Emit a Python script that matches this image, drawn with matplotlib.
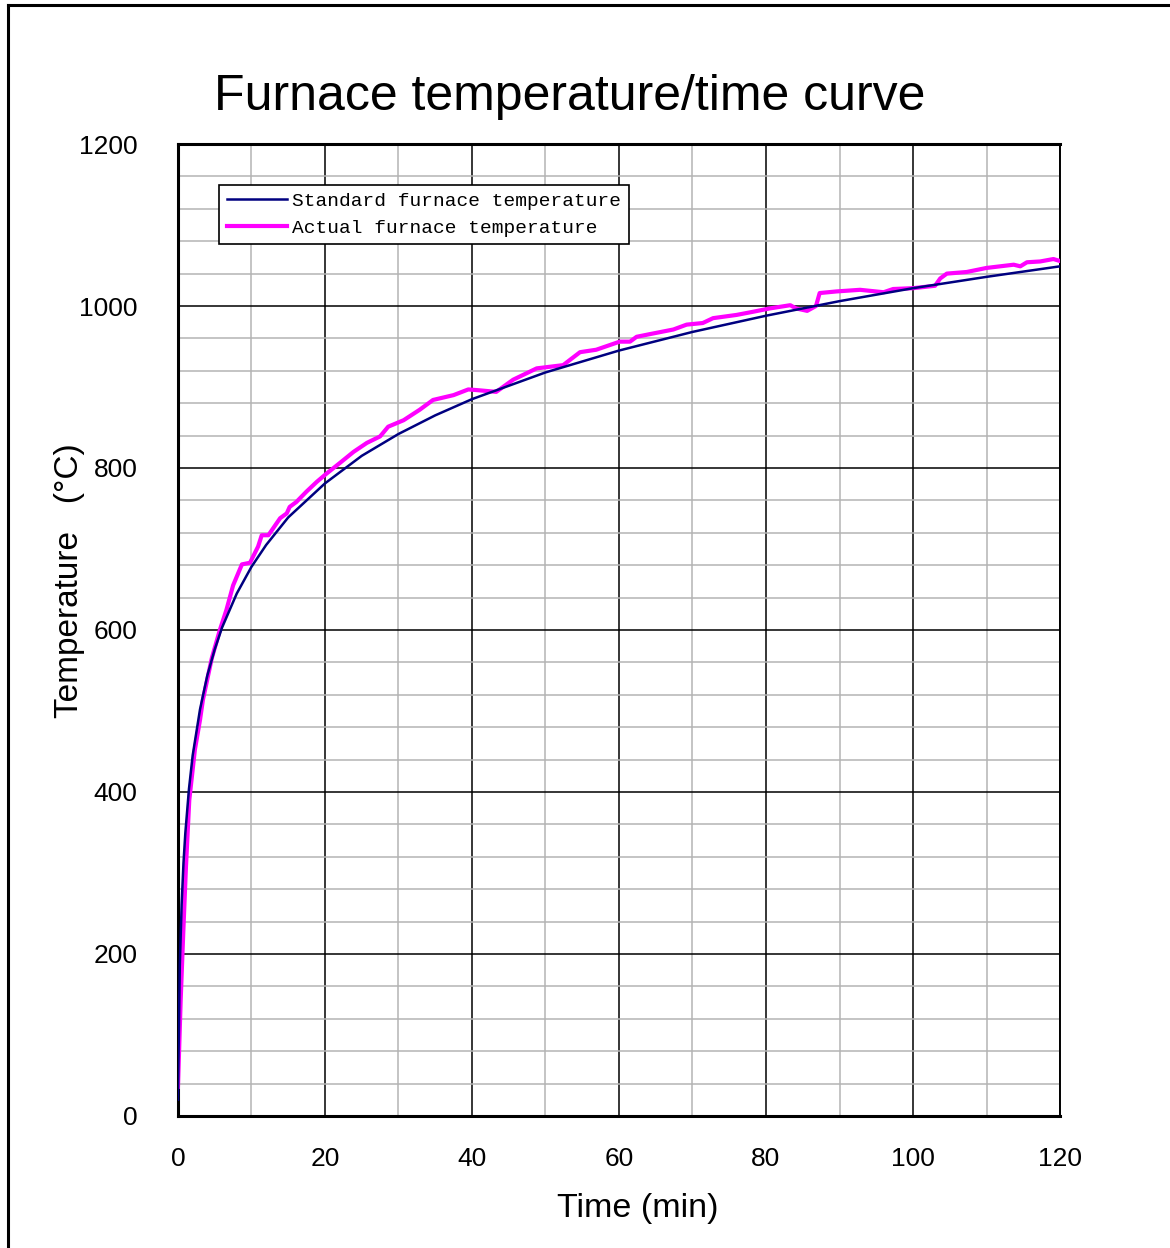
import matplotlib
matplotlib.use("Agg")
import matplotlib.pyplot as plt
from matplotlib.lines import Line2D
from matplotlib.ticker import MultipleLocator

# Standard furnace temperature
std_time = [0, 0.25, 0.5, 0.75, 1, 1.5, 2, 3, 4, 5, 6, 8, 10, 12, 15, 20, 25, 30,
            35, 40, 50, 60, 70, 80, 90, 100, 110, 120]
std_temp = [20, 185, 261, 312, 349, 404, 445, 502, 544, 576, 603, 645, 678, 705,
            739, 781, 815, 842, 865, 885, 918, 945, 968, 988, 1006, 1022, 1036, 1049]

# Actual furnace temperature
act_time = [0, 0.37, 0.72, 1.09, 1.54, 2.3, 3.0, 3.4, 4.6, 5.7, 6.6, 7.5, 8.7, 9.8,
            10.9, 11.4, 12.3, 13.9, 14.8, 15.2, 16.1, 17.5, 18.9, 20.2, 22.0, 23.9,
            25.7, 27.5, 28.6, 30.7, 32.9, 34.7, 37.5, 39.5, 40.9, 43.3, 45.6, 48.8,
            52.4, 54.7, 56.9, 60.1, 61.5, 62.4, 64.6, 67.4, 69.2, 71.4, 72.8, 76.0,
            78.3, 80.5, 83.3, 84.1, 85.6, 86.8, 87.3, 89.6, 92.8, 96.0, 97.3, 100.0,
            103.0, 103.7, 104.6, 107.3, 110.0, 113.7, 114.6, 115.5, 117.3, 119.1, 120.2]
act_temp = [36, 143, 226, 308, 390, 452, 489, 514, 565, 600, 625, 655, 681, 683,
            703, 717, 717, 738, 744, 752, 758, 771, 783, 793, 806, 820,
            831, 839, 851, 859, 872, 884, 890, 897, 896, 894, 909, 923,
            927, 943, 946, 956, 956, 962, 966, 971, 977, 979, 985, 989,
            993, 997, 1001, 997, 994, 1000, 1016, 1018, 1020, 1017, 1021, 1022,
            1025, 1034, 1040, 1042, 1047, 1051, 1049, 1054, 1055, 1058, 1055]

sans = ["Liberation Sans", "DejaVu Sans"]

fig = plt.figure(figsize=(11.7, 12.48), dpi=100)
ax = fig.add_axes([0.1521, 0.1058, 0.7539, 0.7788])

ax.plot(std_time, std_temp, color="#000080", lw=1.8, label="Standard furnace temperature", zorder=4)
ax.plot(act_time, act_temp, color="#ff00ff", lw=3.0, label="Actual furnace temperature", zorder=3)

ax.set_xlim(0, 120)
ax.set_ylim(0, 1200)
ax.xaxis.set_major_locator(MultipleLocator(20))
ax.xaxis.set_minor_locator(MultipleLocator(10))
ax.yaxis.set_major_locator(MultipleLocator(200))
ax.yaxis.set_minor_locator(MultipleLocator(40))
ax.grid(which="minor", color="#b4b4b4", lw=1.1)
ax.grid(which="major", color="black", lw=1.1)
ax.set_axisbelow(True)
ax.tick_params(which="both", length=0)
ax.tick_params(axis="y", pad=29, labelsize=19)
ax.tick_params(axis="x", pad=22, labelsize=19)
for lab in ax.get_xticklabels() + ax.get_yticklabels():
    lab.set_family(sans)

for s in ["left", "bottom", "top"]:
    ax.spines[s].set_linewidth(2.2)
ax.spines["right"].set_linewidth(1.4)

ax.set_xlabel("Time (min)", family=sans, fontsize=24.5)
ax.xaxis.set_label_coords(0.5215, -0.0947)
ax.xaxis.label.set_va("center")
ax.set_ylabel("Temperature   (°C)", family=sans, fontsize=24)
ax.yaxis.set_label_coords(-0.1224, 0.551)
ax.yaxis.label.set_va("center")
fig.text(0.487, 0.9225, "Furnace temperature/time curve", family=sans,
         fontsize=36, ha="center", va="center")

leg = ax.legend(loc="upper left", bbox_to_anchor=(0.047, 0.958), fancybox=False,
                framealpha=1, edgecolor="black", prop={"family": "Liberation Mono", "size": 14},
                handlelength=3.1, handletextpad=0.25, borderpad=0.4, labelspacing=0.45,
                borderaxespad=0)
leg.get_frame().set_linewidth(1.2)

# outer frame (only top and left edges show in the reference)
fig.add_artist(Line2D([0.0065, 0.0065], [0, 0.996], transform=fig.transFigure, color="black", lw=2.2))
fig.add_artist(Line2D([0.0065, 1.0], [0.996, 0.996], transform=fig.transFigure, color="black", lw=2.2))

fig.savefig("out.png", dpi=100)
